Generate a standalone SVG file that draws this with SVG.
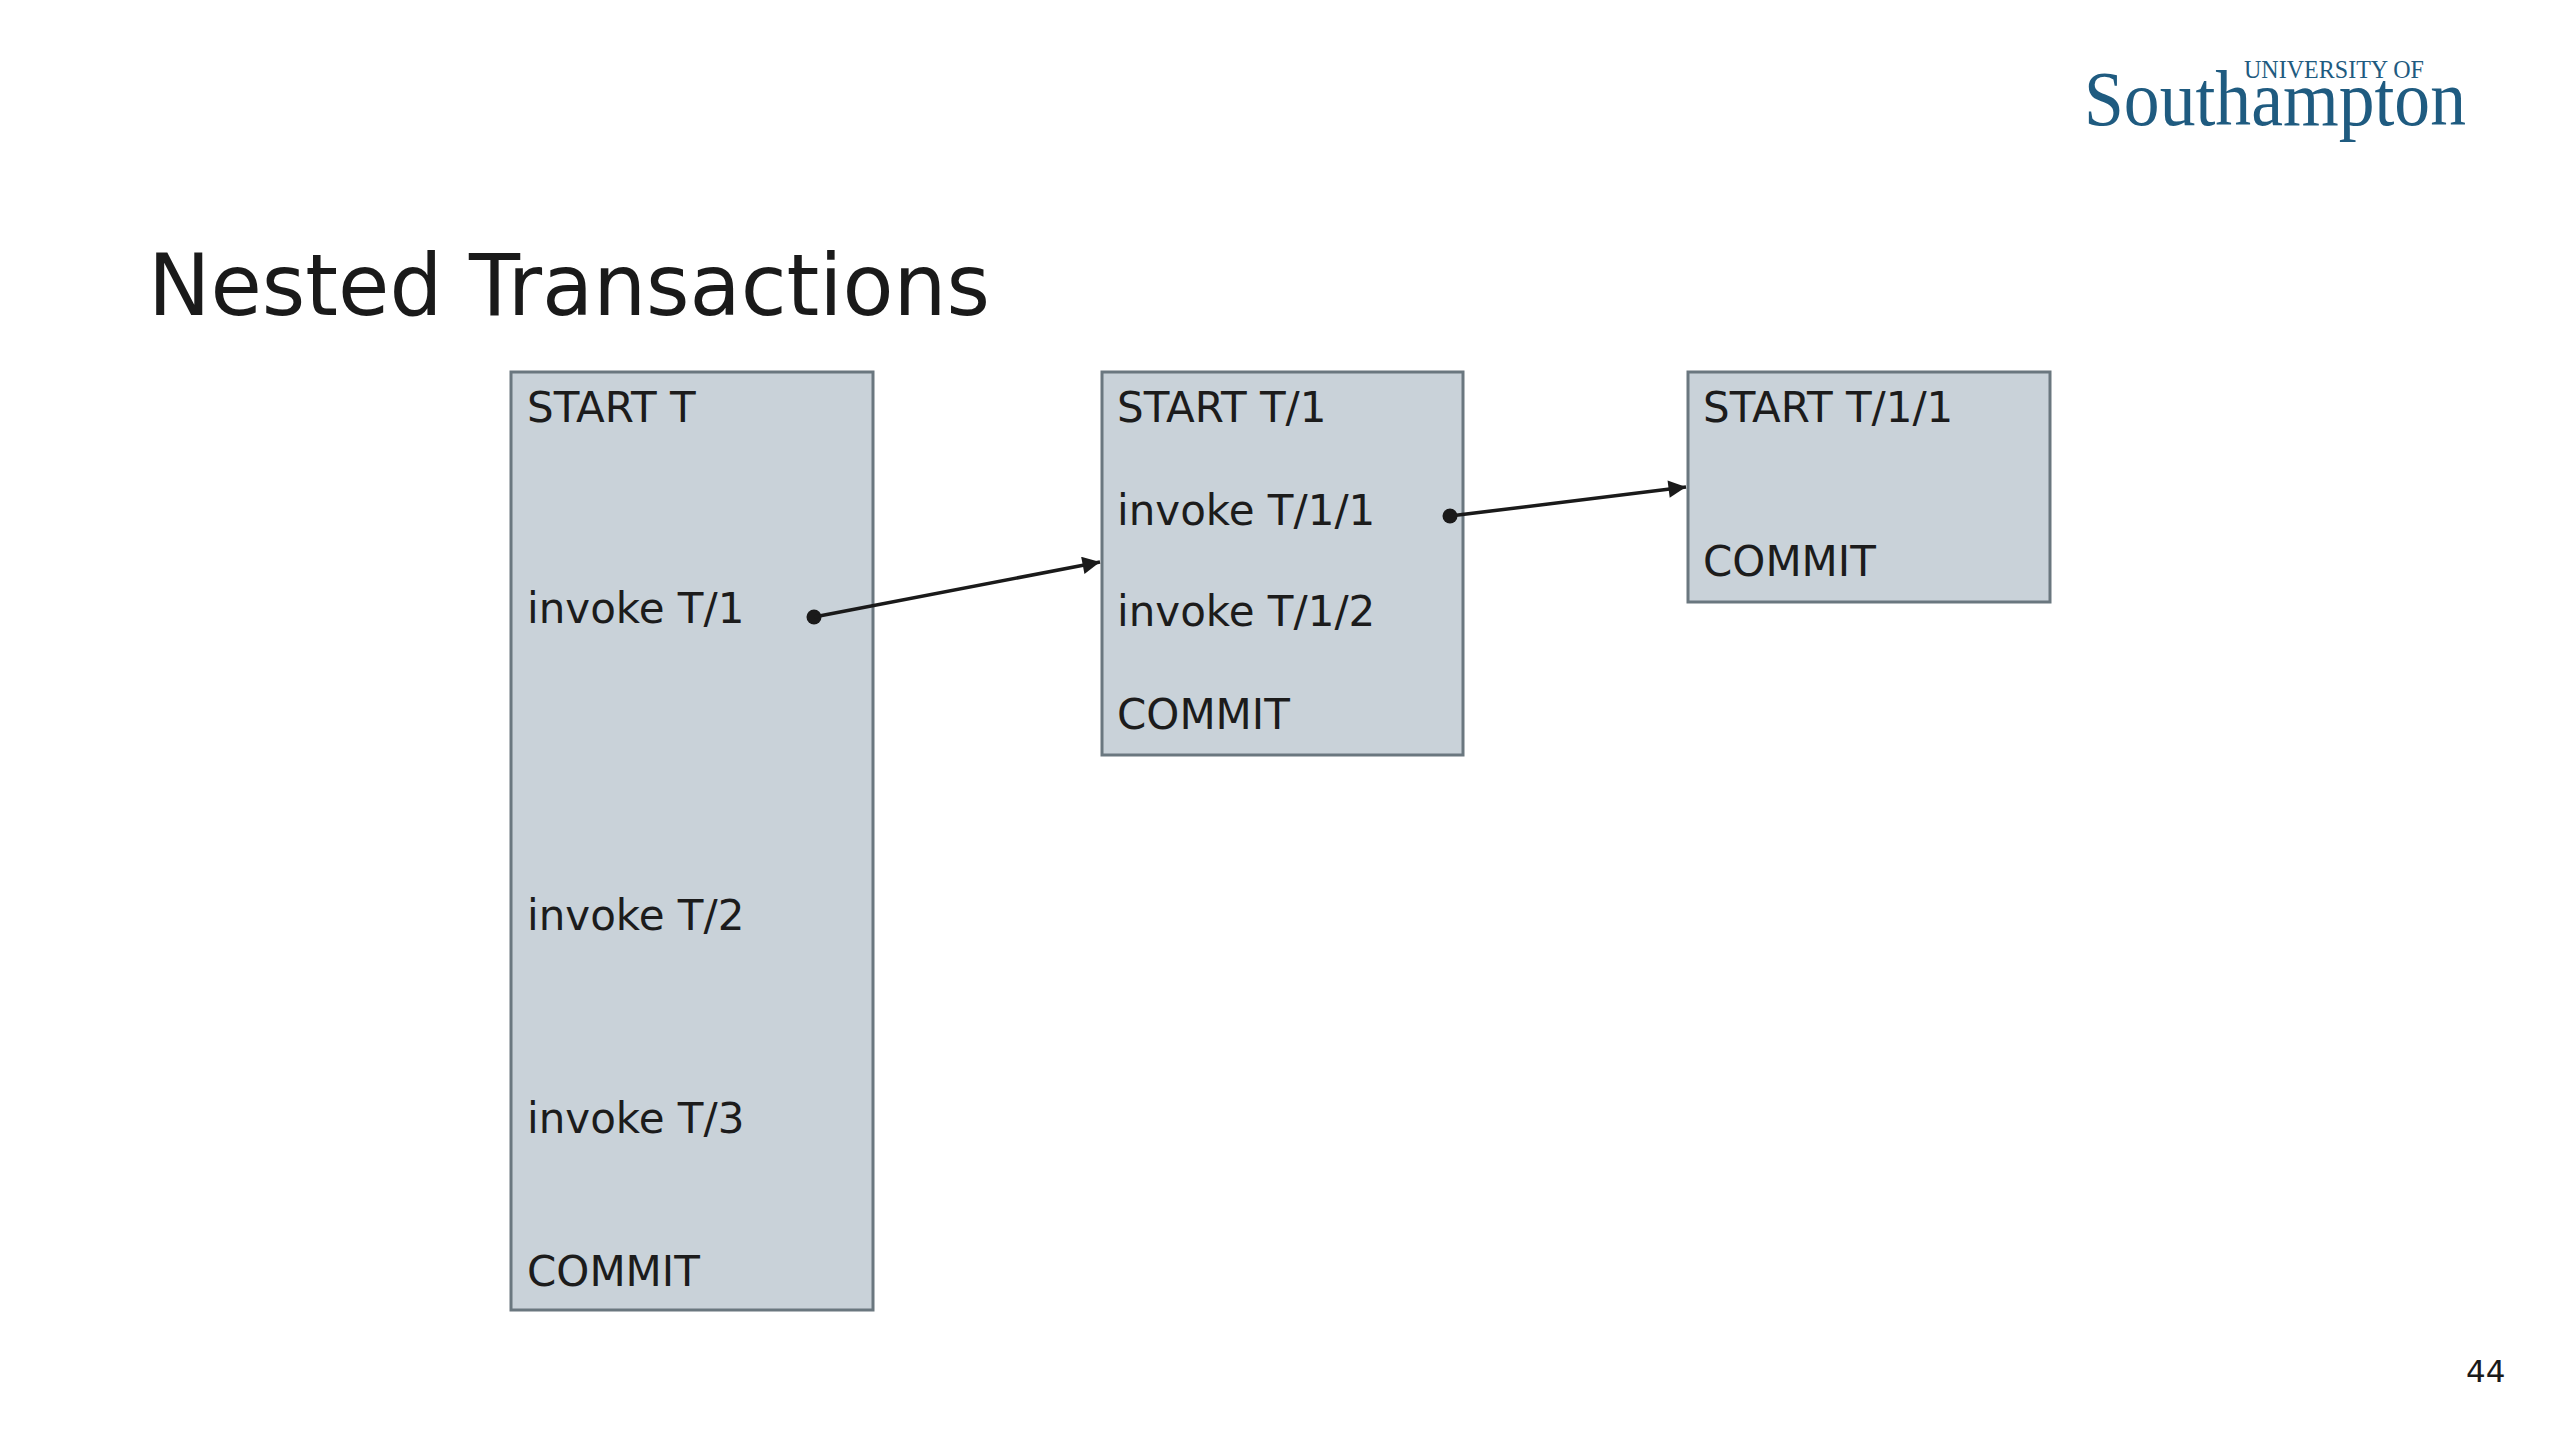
<svg xmlns="http://www.w3.org/2000/svg" width="2560" height="1440" viewBox="0 0 2560 1440">
<style>
  .bg { fill: #ffffff; }
  .box { fill: #c9d2d9; stroke: #6a777f; stroke-width: 3; }
  .lbl { font-family: "DejaVu Sans", Verdana, sans-serif; font-size: 42px; fill: #1c1c1c; }
  .title { font-family: "DejaVu Sans", Verdana, sans-serif; font-size: 85px; fill: #1a1a1a; }
  .logo { font-family: "Liberation Serif", "Times New Roman", serif; fill: #1f5b80; }
  .pg { font-family: "DejaVu Sans", Verdana, sans-serif; font-size: 31px; fill: #1a1a1a; }
  .conn { stroke: #1a1a1a; stroke-width: 3.5; fill: none; }
  .dot { fill: #1a1a1a; }
</style>
<defs>
  <marker id="arrow" viewBox="0 0 10 10" refX="10" refY="5" markerWidth="8.5" markerHeight="5" markerUnits="strokeWidth" orient="auto">
    <path d="M0,0 L10,5 L0,10 Z" fill="#1a1a1a"/>
  </marker>
</defs>
<rect class="bg" x="0" y="0" width="2560" height="1440"/>

<g id="logo">
  <text class="logo" x="2244" y="78" font-size="25" textLength="180" lengthAdjust="spacingAndGlyphs">UNIVERSITY OF</text>
  <text class="logo" x="2084" y="125" font-size="79" textLength="382" lengthAdjust="spacingAndGlyphs">Southampton</text>
</g>

<g id="title">
  <text class="title" x="148" y="315" textLength="842" lengthAdjust="spacingAndGlyphs">Nested Transactions</text>
</g>

<g id="node-T">
  <rect class="box" x="511" y="372" width="362" height="938"/>
  <text class="lbl" x="527" y="422">START T</text>
  <text class="lbl" x="527" y="623">invoke T/1</text>
  <text class="lbl" x="527" y="930">invoke T/2</text>
  <text class="lbl" x="527" y="1133">invoke T/3</text>
  <text class="lbl" x="527" y="1286">COMMIT</text>
</g>

<g id="node-T1">
  <rect class="box" x="1102" y="372" width="361" height="383"/>
  <text class="lbl" x="1117" y="422">START T/1</text>
  <text class="lbl" x="1117" y="525">invoke T/1/1</text>
  <text class="lbl" x="1117" y="626">invoke T/1/2</text>
  <text class="lbl" x="1117" y="729">COMMIT</text>
</g>

<g id="node-T11">
  <rect class="box" x="1688" y="372" width="362" height="230"/>
  <text class="lbl" x="1703" y="422">START T/1/1</text>
  <text class="lbl" x="1703" y="576">COMMIT</text>
</g>

<g id="connectors">
  <circle class="dot" cx="814" cy="617" r="7.5"/>
  <line class="conn" x1="814" y1="617" x2="1100" y2="562" marker-end="url(#arrow)"/>
  <circle class="dot" cx="1450" cy="516" r="7.5"/>
  <line class="conn" x1="1450" y1="516" x2="1686" y2="487" marker-end="url(#arrow)"/>
</g>

<g id="page-number">
  <text class="pg" x="2466" y="1382">44</text>
</g>
</svg>
